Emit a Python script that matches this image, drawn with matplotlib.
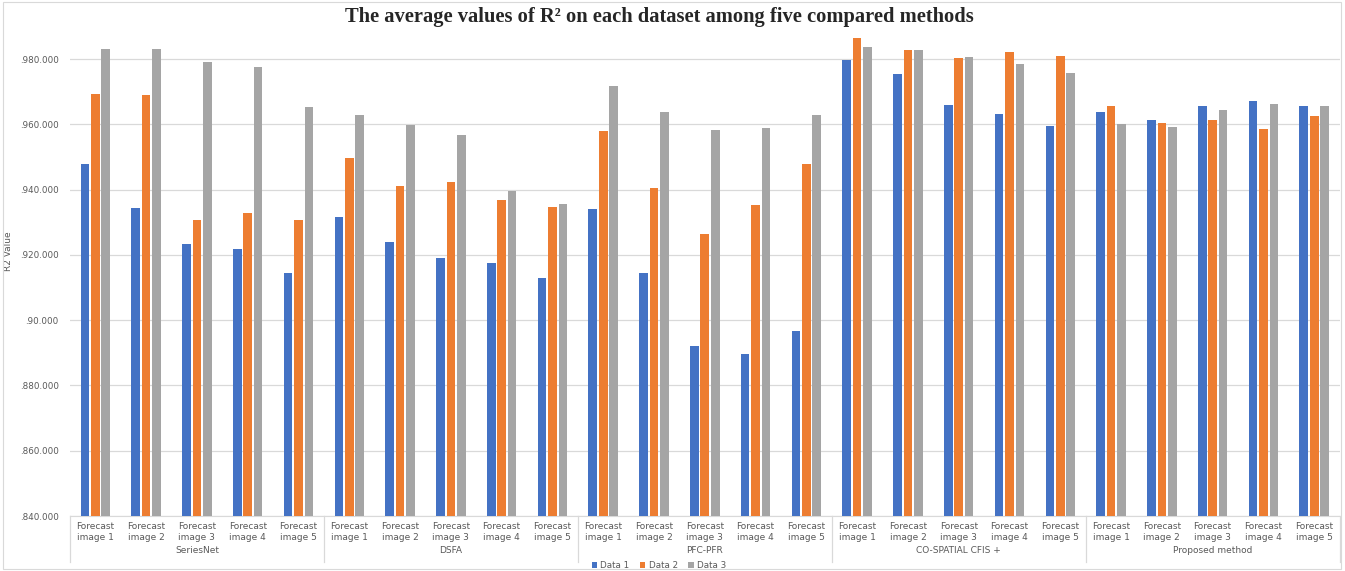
import numpy as np
import matplotlib.pyplot as plt
from matplotlib.transforms import blended_transform_factory
from matplotlib.patches import Rectangle

methods = ["SeriesNet", "DSFA", "PFC-PFR", "CO-SPATIAL CFIS +", "Proposed method"]
images = ["Forecast\nimage 1", "Forecast\nimage 2", "Forecast\nimage 3",
          "Forecast\nimage 4", "Forecast\nimage 5"]

data1 = [0.948, 0.9343, 0.9233, 0.9219, 0.9146,
         0.9317, 0.924, 0.919, 0.9175, 0.913,
         0.9341, 0.9146, 0.892, 0.8896, 0.8968,
         0.9796, 0.9754, 0.966, 0.9631, 0.9594,
         0.9638, 0.9612, 0.9657, 0.9671, 0.9657]
data2 = [0.9692, 0.969, 0.9308, 0.9327, 0.9306,
         0.9497, 0.941, 0.9423, 0.9368, 0.9347,
         0.9579, 0.9404, 0.9265, 0.9354, 0.948,
         0.9866, 0.9829, 0.9803, 0.9821, 0.9811,
         0.9657, 0.9604, 0.9614, 0.9587, 0.9626]
data3 = [0.983, 0.9832, 0.9791, 0.9775, 0.9652,
         0.9628, 0.9598, 0.9567, 0.9395, 0.9356,
         0.9717, 0.9637, 0.9584, 0.9588, 0.9628,
         0.9837, 0.9827, 0.9806, 0.9784, 0.9756,
         0.960, 0.9592, 0.9643, 0.9664, 0.9657]

yticks = [0.84, 0.86, 0.88, 0.90, 0.92, 0.94, 0.96, 0.98]
ytick_labels = [".840.000", ".860.000", ".880.000", ".90.000",
                ".920.000", ".940.000", ".960.000", ".980.000"]

colors = ["#4472C4", "#ED7D31", "#A5A5A5"]
txt = "#595959"

fig = plt.figure(figsize=(13.45, 5.71), dpi=100)
ax = fig.add_axes([0.052, 0.0963, 0.944, 0.843])

x = np.arange(len(data1))
w = 0.17
step = 0.205
for i, (vals, c, name) in enumerate(zip([data1, data2, data3], colors,
                                        ["Data 1", "Data 2", "Data 3"])):
    ax.bar(x + (i - 1) * step, vals, width=w, color=c, label=name, zorder=3)

ax.set_xlim(-0.5, len(x) - 0.5)
ax.set_ylim(0.84, 0.9875)
ax.set_yticks(yticks)
ax.set_yticklabels(ytick_labels, fontsize=6.3, color=txt)
ax.set_xticks(x)
ax.set_xticklabels(images * len(methods), fontsize=6.5, color=txt, linespacing=1.3)
ax.tick_params(axis="both", length=0, pad=4)
ax.tick_params(axis="y", pad=8)
ax.grid(axis="y", color="#D9D9D9", linewidth=0.9, zorder=0)
for s in ["top", "right", "left"]:
    ax.spines[s].set_visible(False)
ax.spines["bottom"].set_color("#D9D9D9")
ax.set_ylabel("R2 Value", fontsize=6.5, color=txt)
ax.yaxis.set_label_coords(-0.045, 0.55)

# group separators and method names under the category labels
trans = blended_transform_factory(ax.transData, ax.transAxes)
for g in range(len(methods) + 1):
    xs = g * 5 - 0.5
    ax.plot([xs, xs], [0, -0.095], transform=trans, color="#D9D9D9",
            linewidth=0.9, clip_on=False)
for g, m in enumerate(methods):
    ax.text(g * 5 + 2, -0.072, m, transform=trans, ha="center", va="center",
            fontsize=6.5, color=txt)

fig.suptitle("The average values of R\u00b2 on each dataset among five compared methods",
             x=0.49, y=0.988, fontsize=14.8, fontweight="bold",
             family="Liberation Serif", color="#262626")

fig.legend(loc="lower center", bbox_to_anchor=(0.49, -0.012), ncol=3, frameon=False,
           fontsize=6.3, handlelength=0.6, handleheight=0.6, handletextpad=0.4,
           columnspacing=1.2, labelcolor=txt)

fig.patches.append(Rectangle((0.002, 0.003), 0.995, 0.994, transform=fig.transFigure,
                             fill=False, edgecolor="#D9D9D9", linewidth=0.8))

fig.savefig("out.png", dpi=100)
